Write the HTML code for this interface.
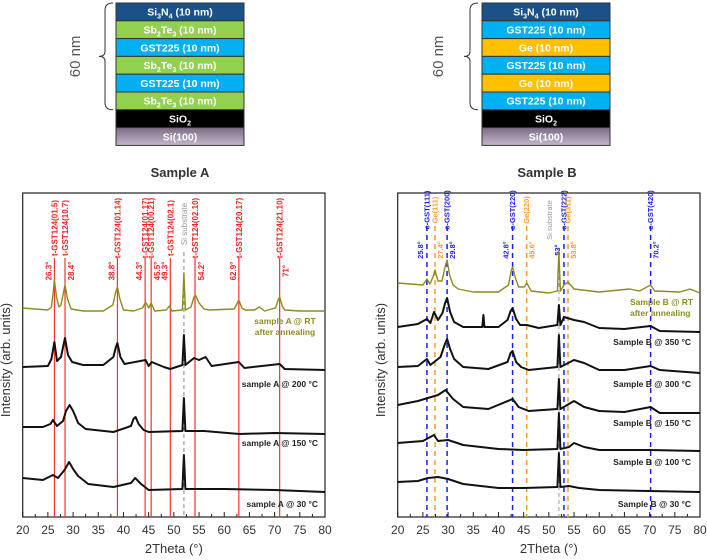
<!DOCTYPE html>
<html><head><meta charset="utf-8"><style>
body{margin:0;background:#fff;width:707px;height:560px;overflow:hidden;font-family:"Liberation Sans",sans-serif}
svg{display:block}
</style></head><body>
<svg id="fig" width="707" height="560" viewBox="0 0 707 560" font-family="Liberation Sans, sans-serif">
<defs>
<linearGradient id="sig" x1="0" y1="0" x2="0" y2="1"><stop offset="0" stop-color="#7d6d86"/><stop offset="1" stop-color="#c4b6cc"/></linearGradient>
</defs>
<g id="stacks"></g>
<text x="180" y="177" text-anchor="middle" font-size="13" font-weight="bold" fill="#333">Sample A</text>
<text x="547" y="177" text-anchor="middle" font-size="13" font-weight="bold" fill="#333">Sample B</text>
<g id="chartA"></g>
<g id="chartB"></g>
</svg>
<script>
// ---------- Chart data (intensity in arbitrary units) ----------
const xTicks = [20,25,30,35,40,45,50,55,60,65,70,75,80];
const seriesA_RT = [[20,209],[25,207],[25.7,210],[26.0,222],[26.3,237],[26.7,220],[27.2,210],[27.6,212],[28.0,222],[28.4,232],[28.9,218],[29.6,208],[32,206],[36,206],[37.9,212],[38.4,224],[38.8,230],[39.3,218],[40,207],[42,206],[43.8,209],[44.4,215],[45,209],[45.5,214],[46.2,206],[48.5,207],[49.1,211],[49.6,206],[51.7,207],[52,244],[52.3,207],[53.4,210],[54.0,220],[54.3,222],[55,214],[56,208],[57,207],[62,208],[62.5,213],[62.9,217],[63.5,209],[64.2,207],[66,207],[67,210],[68,206],[70.2,209],[70.7,217],[71,220],[71.5,211],[72,207],[75,206],[80,206]];
const seriesA_200 = [[20,150],[25,151],[25.7,158],[26.3,175],[26.8,156],[27.6,160],[28.1,172],[28.4,179],[29.0,162],[29.8,155],[32,152],[36,152],[38.0,160],[38.5,170],[38.8,174],[39.4,160],[40.2,153],[44.4,157],[45,151],[45.6,155],[48,150],[49.3,148],[51.7,152],[52,182],[52.3,152],[54,159],[55,157],[56.3,160],[57.5,151],[62.9,155],[64,149],[71,153],[72,148],[80,147]];
const seriesA_150 = [[20,90],[24,90],[25.5,93],[26,97],[26.8,91],[28,96],[28.6,106],[29.3,112],[30.0,106],[31,94],[32.5,88],[38,85],[41.5,91],[42.0,98],[42.4,100],[43,93],[44,87],[45,85],[51.7,86],[52,119],[52.3,86],[56,86],[63,83],[70,84],[80,83]];
const seriesA_30 = [[20,39],[24,37],[26,42],[27,39],[28.3,47],[29.2,55],[30,48],[31,41],[33,33],[38,30],[41.5,34],[42.3,39],[43.5,33],[45,27],[51.7,28],[52,62],[52.3,28],[56,28],[60,28],[70,27],[80,25]];
const seriesB_RT = [[20,234],[25,232],[25.8,238],[26.4,233],[27.0,240],[27.4,247],[28.0,236],[28.8,236],[29.4,250],[29.8,257],[30.3,242],[31,232],[32,228],[35,225],[40,225],[42.0,232],[42.5,246],[42.8,250],[43.3,240],[44,230],[45.1,230],[45.6,234],[46.5,226],[50,224],[51.7,226],[52,265],[52.3,226],[53,232],[53.8,235],[55,228],[60,225],[62,226],[66,228],[68,226],[70.2,232],[71,226],[76,225],[78,228],[80,224]];
const seriesB_350 = [[20,190],[24,193],[25.8,198],[26.5,194],[27.2,205],[28,197],[28.9,204],[29.4,214],[29.8,219],[30.4,205],[31.2,195],[33,190],[36.8,190],[37,202],[37.2,190],[40,190],[41.8,197],[42.4,206],[42.8,209],[43.5,198],[44.3,192],[45.6,192],[48,189],[51.7,192],[52,212],[52.3,192],[53,200],[55,197],[57,195],[60,189],[65,188],[70.2,191],[72,186],[80,185]];
const seriesB_300 = [[20,150],[24,151],[25.8,158],[26.5,152],[28.5,160],[29.3,172],[29.8,178],[30.4,168],[31.2,158],[33,150],[38,148],[41.8,155],[42.4,164],[42.8,166],[43.5,155],[44.5,150],[46,147],[51.7,150],[52,182],[52.3,150],[55,157],[57,154],[60,147],[65,147],[70.2,151],[72,147],[80,144]];
const seriesB_150 = [[20,112],[24,116],[26,119],[28,122],[29.5,127],[31,118],[33,110],[38,108],[42.8,118],[44,110],[46,106],[51.7,108],[52,138],[52.3,108],[55,116],[57,110],[60,106],[65,105],[70.2,110],[72,104],[80,104]];
const seriesB_100 = [[20,74],[25,76],[27.2,82],[28,76],[30,77],[33,72],[40,68],[45,67],[51.7,68],[52,104],[52.3,68],[54,70],[55,74],[57,70],[60,67],[70,67],[80,66]];
const seriesB_30 = [[20,35],[24,36],[26,39],[28,40],[30,38],[33,33],[40,29],[45,29],[51.7,30],[52,64],[52.3,30],[54,31],[56,29],[60,27],[70,26],[80,25]];
const refA_pos = [26.3,28.4,38.8,44.3,45.5,49.3,54.2,62.9,71];
const refA_hkl = ["t-GST124(01.5)","t-GST124(10.7)","t-GST124(01.14)","t-GST124(01.17)","t-GST124(00.21)","t-GST124(02.1)","t-GST124(02.10)","t-GST124(20.17)","t-GST124(21.10)"];
const refA_ang = ["26.3°","28.4°","38.8°","44.3°","45.5°","49.3°","54.2°","62.9°","71°"];
const refA_side = [-1,1,-1,-1,1,-1,1,-1,1];
const refB_pos = [25.8,27.4,29.8,42.8,45.6,53,53.8,70.2];
const refB_hkl = ["c-GST(111)","Ge(111)","c-GST(200)","c-GST(220)","Ge(220)","c-GST(222)","Ge(311)","c-GST(420)"];
const refB_ang = ["25.8°","27.4°","29.8°","42.8°","45.6°","53°","53.8°","70.2°"];
const refB_kind = ["c","g","c","c","g","c","g","c"];
const refB_side = [-1,1,1,-1,1,-1,1,1];
const siPos = 52;

const NS="http://www.w3.org/2000/svg";
function mk(tag, attrs, parent){const e=document.createElementNS(NS,tag);for(const k in attrs)e.setAttribute(k,attrs[k]);if(parent)parent.appendChild(e);return e;}

// ---------- Layer stacks ----------
const st=document.getElementById('stacks');
function stack(x0, layers, braceX, nmX){
  const w=128, h=17.8; let y=3;
  layers.forEach((L,i)=>{
    const g=mk('g',{},st);
    
    
    mk('rect',{x:x0,y:y,width:w,height:h,fill:L.fill,stroke:'#333','stroke-width':1},g);
    const t=mk('text',{x:x0+w/2,y:y+h/2+3.8,'text-anchor':'middle','font-size':10.5,'font-weight':'bold',fill:'#fff'},g);
    t.innerHTML=L.html;
    y+=h;
  });
  const bot=3+6*h;
  const b=mk('path',{d:`M${braceX+8},3 Q${braceX},3 ${braceX},10 L${braceX},${(3+bot)/2-5} Q${braceX},${(3+bot)/2} ${braceX-6},${(3+bot)/2} Q${braceX},${(3+bot)/2} ${braceX},${(3+bot)/2+5} L${braceX},${bot-7} Q${braceX},${bot} ${braceX+8},${bot}`,fill:'none',stroke:'#333','stroke-width':1},st);
  
  
  const nm=mk('text',{x:nmX,y:(3+bot)/2,'text-anchor':'middle','font-size':15,fill:'#555',transform:`rotate(-90 ${nmX} ${(3+bot)/2})`},st);
  nm.textContent='60 nm';
  
  
}
const SN={fill:'#1b5189',name:'si3n4',html:'Si<tspan font-size="7" dy="3">3</tspan><tspan dy="-3">N</tspan><tspan font-size="7" dy="3">4</tspan><tspan dy="-3"> (10 nm)</tspan>'};
const ST={fill:'#92d050',name:'sb2te3',html:'Sb<tspan font-size="7" dy="3">2</tspan><tspan dy="-3">Te</tspan><tspan font-size="7" dy="3">3</tspan><tspan dy="-3"> (10 nm)</tspan>'};
const GS={fill:'#00b0f0',name:'gst225',html:'GST225 (10 nm)'};
const GE={fill:'#ffc000',name:'ge',html:'Ge (10 nm)'};
const SO={fill:'#000',name:'sio2',html:'SiO<tspan font-size="7" dy="3">2</tspan>'};
const SI={fill:'url(#sig)',name:'si-100',html:'Si(100)'};
stack(116,[SN,ST,GS,ST,GS,ST,SO,SI],105,80);
stack(482,[SN,GS,GE,GS,GE,GS,SO,SI],470,443);

// ---------- Charts ----------
function chart(gid, L, R, series, refs, labels, yTitleX){
  const g=document.getElementById(gid);
  const T=193, B=517;
  const xs=v=>L+(v-20)*(R-L)/60;
  const ys=v=>B-(v)*(B-T)/324;
  const fr=mk('rect',{x:L,y:T,width:R-L,height:B-T,fill:'none',stroke:'#222','stroke-width':1.2},g);
  
  
  refs(g,xs,T,B);
  series.forEach(s=>{
    const d=s.data.map((p,i)=>(i?'L':'M')+xs(p[0]).toFixed(1)+','+ys(p[1]).toFixed(1)).join(' ');
    const p=mk('path',{d:d,fill:'none',stroke:s.color,'stroke-width':s.w,'stroke-linejoin':'round'},g);
    
    
  });
  labels.forEach(lb=>{
    const t=mk('text',{x:lb.x,y:lb.y,'text-anchor':lb.a,'font-size':8.5,'font-weight':'bold',fill:lb.c},g);
    t.textContent=lb.t;
    
    
  });
  for(let v=20; v<=80; v+=2.5){
    const maj=(v%5===0);
    mk('line',{x1:xs(v),x2:xs(v),y1:B,y2:B-(maj?5:3),stroke:'#222','stroke-width':1},g);
  }
  xTicks.forEach(v=>{
    const t=mk('text',{x:xs(v),y:534,'text-anchor':'middle','font-size':12,fill:'#333'},g);
    t.textContent=v;
    
    
  });
  const xt=mk('text',{x:(L+R)/2,y:553,'text-anchor':'middle','font-size':13,fill:'#333'},g);
  xt.textContent='2Theta (°)';
  
  
  const yt=mk('text',{x:yTitleX,y:360,'text-anchor':'middle','font-size':13,fill:'#333',transform:`rotate(-90 ${yTitleX} 360)`},g);
  yt.textContent='Intensity (arb. units)';
  
  
}

chart('chartA',22.7,325,[
  {data:seriesA_RT,color:'#8c8c1e',w:1.4,name:'series-a-rt-annealed'},
  {data:seriesA_200,color:'#111',w:2,name:'series-a-200c'},
  {data:seriesA_150,color:'#111',w:2,name:'series-a-150c'},
  {data:seriesA_30,color:'#111',w:2,name:'series-a-30c'}],
  (g,xs,T,B)=>{
    const sx=xs(siPos);
    mk('line',{x1:sx,x2:sx,y1:252,y2:B,stroke:'#888','stroke-width':1,'stroke-dasharray':'4,3'},g);
    const st=mk('text',{x:sx+3,y:224,'text-anchor':'middle','font-size':8,fill:'#999',transform:`rotate(-90 ${sx+3} 224)`},g);
    st.textContent='Si substrate';
    refA_pos.forEach((p,i)=>{
      const x=xs(p);
      mk('line',{x1:x,x2:x,y1:258,y2:B,stroke:'#ff3030','stroke-width':1.2},g);
      const t=mk('text',{x:x+3,y:228,'text-anchor':'middle','font-size':8,'font-weight':'bold',fill:'#ff2020',transform:`rotate(-90 ${x+3} 228)`},g);
      t.textContent=refA_hkl[i];
      
      
      const ax=x+(refA_side[i]<0?-3:9);
      const a=mk('text',{x:ax,y:271,'text-anchor':'middle','font-size':8,'font-weight':'bold',fill:'#ff2020',transform:`rotate(-90 ${ax} 271)`},g);
      a.textContent=refA_ang[i];
      
      
    });
  },
  [{x:285,y:324,t:'sample A @ RT',a:'middle',c:'#8c8c1e'},{x:285,y:335,t:'after annealing',a:'middle',c:'#8c8c1e'},
   {x:318,y:387,t:'sample A @ 200 °C',a:'end',c:'#222'},{x:318,y:446,t:'sample A @ 150 °C',a:'end',c:'#222'},
   {x:318,y:507,t:'sample A @ 30 °C',a:'end',c:'#222'}], 10);

chart('chartB',397.7,700,[
  {data:seriesB_RT,color:'#8c8c1e',w:1.4,name:'series-b-rt-annealed'},
  {data:seriesB_350,color:'#111',w:2,name:'series-b-350c'},
  {data:seriesB_300,color:'#111',w:2,name:'series-b-300c'},
  {data:seriesB_150,color:'#111',w:2,name:'series-b-150c'},
  {data:seriesB_100,color:'#111',w:2,name:'series-b-100c'},
  {data:seriesB_30,color:'#111',w:2,name:'series-b-30c'}],
  (g,xs,T,B)=>{
    const sx=xs(siPos);
    mk('line',{x1:sx,x2:sx,y1:248,y2:B,stroke:'#999','stroke-width':1,'stroke-dasharray':'4,3'},g);
    const st=mk('text',{x:sx-7,y:220,'text-anchor':'middle','font-size':7.5,fill:'#999',transform:`rotate(-90 ${sx-7} 220)`},g);
    st.textContent='Si substrate';
    refB_pos.forEach((p,i)=>{
      const x=xs(p), col=refB_kind[i]==='c'?'#1a1aff':'#ff9a30';
      mk('line',{x1:x,x2:x,y1:226,y2:B,stroke:col,'stroke-width':1.5,'stroke-dasharray':'5,4'},g);
      const t=mk('text',{x:x+2.5,y:210,'text-anchor':'middle','font-size':7.5,'font-weight':'bold',fill:col,transform:`rotate(-90 ${x+2.5} 210)`},g);
      t.textContent=refB_hkl[i];
      
      
      const ax=x+(refB_side[i]<0?-4:8);
      const a=mk('text',{x:ax,y:250,'text-anchor':'middle','font-size':7.5,'font-weight':'bold',fill:col,transform:`rotate(-90 ${ax} 250)`},g);
      a.textContent=refB_ang[i];
      
      
    });
  },
  [{x:630,y:305,t:'Sample B @ RT',a:'start',c:'#8c8c1e'},{x:630,y:316,t:'after annealing',a:'start',c:'#8c8c1e'},
   {x:691,y:345,t:'Sample B @ 350 °C',a:'end',c:'#222'},{x:691,y:387,t:'Sample B @ 300 °C',a:'end',c:'#222'},
   {x:691,y:426,t:'Sample B @ 150 °C',a:'end',c:'#222'},{x:691,y:465,t:'Sample B @ 100 °C',a:'end',c:'#222'},
   {x:691,y:507,t:'Sample B @ 30 °C',a:'end',c:'#222'}], 385);
</script>
</body></html>
